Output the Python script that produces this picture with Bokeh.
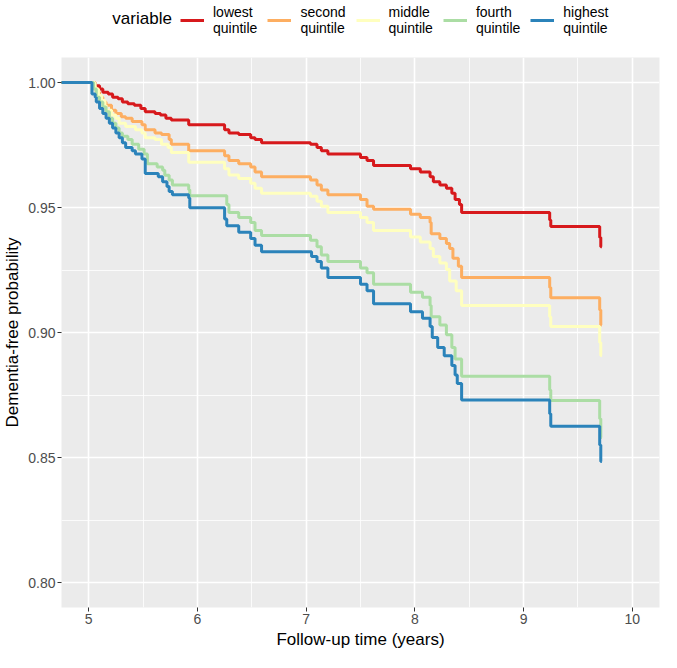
from bokeh.plotting import figure
from bokeh.layouts import column
from bokeh.models import Range1d, FixedTicker, Legend, LegendItem, PrintfTickFormatter, Label
from bokeh.embed import file_html
from bokeh.resources import INLINE

# ---- data ----
series_names = ["lowest\nquintile", "second\nquintile", "middle\nquintile",
                "fourth\nquintile", "highest\nquintile"]
series_colors = ["#D7191C", "#FDAE61", "#FFFFBF", "#ABDDA4", "#2B83BA"]
legend_title = "variable"

lowest_time = [0, 5.06, 5.10, 5.13, 5.18, 5.22, 5.27, 5.31, 5.36, 5.42,
               5.48, 5.52, 5.61, 5.66, 5.71, 5.76, 5.92, 6.25, 6.29, 6.38,
               6.49, 6.53, 6.59, 7.04, 7.10, 7.14, 7.20, 7.50, 7.56, 7.62,
               7.96, 8.05, 8.14, 8.17, 8.23, 8.29, 8.34, 8.37, 8.41, 8.43,
               9.24, 9.25, 9.70, 9.71, 9.72]
lowest_surv = [1.0, 0.9987, 0.9974, 0.9961, 0.9954, 0.9941, 0.9935, 0.9922, 0.9915, 0.9909,
               0.9896, 0.9883, 0.9876, 0.987, 0.9857, 0.985, 0.9831, 0.9811, 0.9798, 0.9792,
               0.9779, 0.9772, 0.9759, 0.9753, 0.974, 0.9727, 0.9714, 0.970, 0.9688, 0.9668,
               0.9655, 0.9642, 0.9623, 0.9603, 0.959, 0.9577, 0.9557, 0.9532, 0.9512, 0.948,
               0.945, 0.9424, 0.938, 0.9343, 0.9343]

second_time = [0, 5.045, 5.07, 5.10, 5.13, 5.16, 5.21, 5.25, 5.30, 5.34,
               5.40, 5.49, 5.52, 5.61, 5.67, 5.74, 5.76, 5.92, 6.25, 6.29,
               6.38, 6.49, 6.53, 6.59, 7.04, 7.10, 7.14, 7.20, 7.50, 7.56,
               7.62, 7.96, 8.05, 8.14, 8.15, 8.23, 8.29, 8.32, 8.35, 8.40,
               8.43, 9.24, 9.25, 9.70, 9.71, 9.72]
second_surv = [1.0, 0.998, 0.9961, 0.9941, 0.9922, 0.9909, 0.9889, 0.9876, 0.9863, 0.9857,
               0.9844, 0.9831, 0.9811, 0.9798, 0.9792, 0.9772, 0.9753, 0.9727, 0.9707, 0.9688,
               0.9675, 0.9662, 0.9642, 0.9623, 0.961, 0.959, 0.957, 0.9551, 0.9532, 0.9505,
               0.9493, 0.9473, 0.946, 0.944, 0.9395, 0.9376, 0.9356, 0.9336, 0.9297, 0.9265,
               0.922, 0.918, 0.9139, 0.909, 0.903, 0.903]

middle_time = [0, 5.06, 5.09, 5.12, 5.15, 5.16, 5.21, 5.25, 5.28, 5.34,
               5.43, 5.49, 5.52, 5.61, 5.67, 5.73, 5.76, 5.92, 6.25, 6.29,
               6.38, 6.49, 6.53, 6.59, 7.04, 7.10, 7.14, 7.20, 7.50, 7.56,
               7.62, 7.96, 8.05, 8.14, 8.17, 8.23, 8.29, 8.32, 8.38, 8.43,
               9.24, 9.25, 9.70, 9.71, 9.72]
middle_surv = [1.0, 0.9974, 0.9948, 0.9928, 0.9909, 0.9889, 0.987, 0.9857, 0.9837, 0.9824,
               0.9811, 0.9798, 0.9779, 0.9772, 0.9753, 0.974, 0.972, 0.9681, 0.9655, 0.963,
               0.9616, 0.9597, 0.9577, 0.9557, 0.9545, 0.9525, 0.9505, 0.948, 0.946, 0.944,
               0.9408, 0.9382, 0.9362, 0.9336, 0.9304, 0.9278, 0.9252, 0.9206, 0.9167, 0.9108,
               0.9063, 0.9024, 0.896, 0.8908, 0.8908]

fourth_time = [0, 5.045, 5.07, 5.10, 5.13, 5.16, 5.19, 5.22, 5.25, 5.28,
               5.31, 5.36, 5.40, 5.46, 5.51, 5.54, 5.63, 5.68, 5.70, 5.74,
               5.77, 5.92, 5.93, 6.27, 6.29, 6.38, 6.49, 6.53, 6.59, 7.04,
               7.10, 7.14, 7.20, 7.50, 7.56, 7.62, 7.96, 8.07, 8.14, 8.15,
               8.23, 8.29, 8.34, 8.37, 8.43, 9.24, 9.25, 9.70, 9.71, 9.72]
fourth_surv = [1.0, 0.9974, 0.9941, 0.9922, 0.9902, 0.9883, 0.9857, 0.9837, 0.9818, 0.9798,
               0.9785, 0.9772, 0.9753, 0.9733, 0.9714, 0.9675, 0.9662, 0.9649, 0.9629, 0.961,
               0.959, 0.9571, 0.9547, 0.9512, 0.948, 0.946, 0.944, 0.9408, 0.9388, 0.9369,
               0.9343, 0.931, 0.9284, 0.9258, 0.9239, 0.9193, 0.9161, 0.9141, 0.9108, 0.9063,
               0.903, 0.8991, 0.894, 0.8894, 0.8825, 0.877, 0.8728, 0.8655, 0.858, 0.858]

highest_time = [0, 5.03, 5.06, 5.07, 5.10, 5.13, 5.16, 5.19, 5.22, 5.25,
                5.28, 5.31, 5.34, 5.40, 5.43, 5.49, 5.52, 5.64, 5.68, 5.72,
                5.74, 5.77, 5.92, 5.93, 6.25, 6.27, 6.38, 6.49, 6.53, 6.59,
                7.05, 7.10, 7.14, 7.20, 7.50, 7.56, 7.62, 7.96, 8.07, 8.14,
                8.16, 8.21, 8.27, 8.34, 8.37, 8.39, 8.43, 9.24, 9.25, 9.70,
                9.71, 9.72]
highest_surv = [1.0, 0.9954, 0.9941, 0.9922, 0.9896, 0.9876, 0.9857, 0.9837, 0.9818, 0.9798,
                0.9779, 0.9759, 0.974, 0.9727, 0.9714, 0.9694, 0.9636, 0.9623, 0.9603, 0.9584,
                0.9564, 0.9551, 0.9538, 0.9499, 0.9454, 0.9427, 0.9401, 0.9376, 0.9349, 0.9323,
                0.9304, 0.9284, 0.9258, 0.922, 0.9193, 0.9167, 0.9115, 0.9083, 0.9057, 0.9024,
                0.898, 0.894, 0.8907, 0.8868, 0.883, 0.8796, 0.873, 0.8675, 0.8625, 0.855,
                0.8484, 0.8484]

x_ticks = [5, 6, 7, 8, 9, 10]
x_minor = [5.5, 6.5, 7.5, 8.5, 9.5]
y_ticks = [0.80, 0.85, 0.90, 0.95, 1.00]
y_minor = [0.825, 0.875, 0.925, 0.975]

all_series = [
    (lowest_time, lowest_surv),
    (second_time, second_surv),
    (middle_time, middle_surv),
    (fourth_time, fourth_surv),
    (highest_time, highest_surv),
]

FONT = "Liberation Sans"
LINE_W = 3

W, H = 661, 652
LEG_H = 38
ML, MR, MT, MB = 59, 2, 19, 45

# ---- legend strip (separate figure above the panel; x in page pixels) ----
lg = figure(width=W, height=LEG_H, output_backend="svg", toolbar_location=None,
            x_range=Range1d(ML, W - MR), y_range=Range1d(0, LEG_H),
            x_axis_type=None, y_axis_type=None,
            min_border_left=ML, min_border_right=MR, min_border_top=0, min_border_bottom=0,
            background_fill_color="white", border_fill_color="white")
lg.outline_line_color = None

items = []
for name, col in zip(series_names, series_colors):
    # legend-key sample only: a line kept outside the visible strip
    r = lg.line(x=[ML - 40, ML - 30], y=[-20, -20], line_color=col, line_width=LINE_W)
    items.append(LegendItem(label=name, renderers=[r]))

legend = Legend(items=items, orientation="horizontal", location=(178 - ML, 2),
                padding=2, margin=0, spacing=10, label_standoff=9,
                glyph_width=24, glyph_height=28, label_height=28,
                label_text_font=FONT, label_text_font_size="14px",
                label_text_line_height=1.15, label_text_color="black",
                border_line_color=None, background_fill_alpha=0)
lg.add_layout(legend)
lg.add_layout(Label(x=110, y=LEG_H / 2 + 1, text=legend_title, text_font=FONT,
                    text_font_size="17px", text_baseline="middle",
                    text_align="left", text_color="black"))

# ---- main panel ----
p = figure(width=W, height=H - LEG_H, output_backend="svg", toolbar_location=None,
           x_range=Range1d(4.75, 10.25), y_range=Range1d(0.79, 1.01),
           min_border_left=ML, min_border_right=MR, min_border_top=MT, min_border_bottom=MB,
           background_fill_color="#EBEBEB", border_fill_color="white")
p.outline_line_color = None

xt = FixedTicker(ticks=x_ticks, minor_ticks=x_minor)
yt = FixedTicker(ticks=y_ticks, minor_ticks=y_minor)
p.xaxis.ticker = xt
p.yaxis.ticker = yt
p.xgrid.ticker = xt
p.ygrid.ticker = yt
for g in (p.xgrid, p.ygrid):
    g.grid_line_color = "white"
    g.grid_line_width = 1.6
    g.minor_grid_line_color = "white"
    g.minor_grid_line_width = 0.8

p.yaxis.formatter = PrintfTickFormatter(format="%.2f")
for ax in (p.xaxis, p.yaxis):
    ax.axis_line_color = None
    ax.major_tick_out = 4
    ax.major_tick_in = 0
    ax.minor_tick_out = 0
    ax.minor_tick_in = 0
    ax.major_tick_line_color = "#333333"
    ax.major_label_text_color = "#4D4D4D"
    ax.major_label_text_font = FONT
    ax.major_label_text_font_size = "14px"
    ax.major_label_standoff = 2
    ax.axis_label_text_font = FONT
    ax.axis_label_text_font_size = "17px"
    ax.axis_label_text_font_style = "normal"
    ax.axis_label_text_color = "black"
    ax.axis_label_standoff = 3
p.xaxis.axis_label = "Follow-up time (years)"
p.yaxis.axis_label = "Dementia-free probability"

for (t, s), col in zip(all_series, series_colors):
    p.step(t, s, mode="after", line_color=col, line_width=LINE_W)

layout = column(lg, p, spacing=0)
open("out.html", "w").write(file_html(layout, INLINE))
